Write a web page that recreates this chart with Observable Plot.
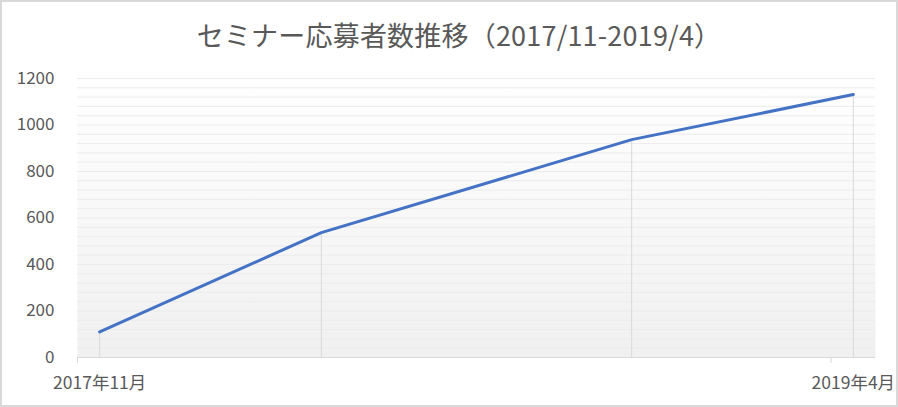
<!DOCTYPE html>
<html>
<head>
<meta charset="utf-8">
<script src="https://cdn.jsdelivr.net/npm/d3@7"></script>
<script src="https://cdn.jsdelivr.net/npm/@observablehq/plot@0.6"></script>
<style>
  html, body { margin: 0; padding: 0; background: #fff; }
  #wrap { position: relative; width: 898px; height: 407px; overflow: hidden; background: #fff; font-family: "Noto Sans CJK JP", "Noto Sans", sans-serif; }
  #title { position: absolute; left: 0; top: 15px; width: 898px; text-align: center; font-size: 27px; line-height: 40px; color: #595959; padding-left: 20px; box-sizing: border-box; letter-spacing: 0.2px; }
  #chart { position: absolute; left: 0; top: 60px; }
  #border { position: absolute; inset: 0; border: 2px solid #d9d9d9; pointer-events: none; }
</style>
</head>
<body>
<div id="wrap">
  <div id="title">セミナー応募者数推移（2017/11-2019/4）</div>
  <div id="chart"></div>
  <div id="border"></div>
</div>
<script>
const months = ["2017-11", "2018-04", "2018-11", "2019-04"];
const applicants = [110, 537, 937, 1131];
const tickLabels = ["2017年11月", "2019年4月"];
const yTicks = [0, 200, 400, 600, 800, 1000, 1200];

const monthIndex = s => { const [y, m] = s.split("-").map(Number); return (y - 2017) * 12 + (m - 11); };
const data = months.map((m, i) => ({ x: monthIndex(m), y: applicants[i] }));
const first = data[0].x, last = data[data.length - 1].x;
const labelTicks = [first, last];
const labelMap = new Map(labelTicks.map((t, i) => [t, tickLabels[i]]));
const minor = d3.range(40, 1201, 40);

const plot = Plot.plot({
  width: 898,
  height: 347,
  marginLeft: 77,
  marginRight: 23,
  marginTop: 18,
  marginBottom: 50,
  style: { fontFamily: '"Noto Sans CJK JP", "Noto Sans", sans-serif', fontSize: "17px", color: "#595959", background: "transparent", overflow: "visible" },
  x: { type: "linear", domain: [first - 0.5, last + 0.5], label: null },
  y: { domain: [0, 1200], label: null },
  marks: [
    Plot.frame({ fill: "url(#plotbg)", stroke: "none" }),
    Plot.ruleY(minor, { stroke: "#ececec", strokeWidth: 1 }),
    Plot.ruleX(data, { x: "x", y1: 0, y2: "y", stroke: "#d9d9d9", strokeWidth: 1 }),
    Plot.ruleY([0], { stroke: "#d9d9d9", strokeWidth: 1 }),
    Plot.axisX([first - 0.5, last - 0.5], { tickSize: 6, stroke: "#d9d9d9", tickFormat: () => "", label: null }),
    Plot.axisX(labelTicks, { tickSize: 0, tickPadding: 19, tickFormat: d => labelMap.get(d), fill: "#595959", fontSize: 17.5, label: null }),
    Plot.axisY(yTicks, { tickSize: 0, tickPadding: 23, tickFormat: d => String(d), fill: "#595959", fontSize: 17, label: null }),
    Plot.line(data, { x: "x", y: "y", stroke: "#4472c4", strokeWidth: 3, strokeLinejoin: "round", strokeLinecap: "round" })
  ]
});

const ns = "http://www.w3.org/2000/svg";
const defs = document.createElementNS(ns, "defs");
defs.innerHTML = '<linearGradient id="plotbg" x1="0" y1="0" x2="0" y2="1"><stop offset="0" stop-color="#ffffff"/><stop offset="1" stop-color="#f0f0f0"/></linearGradient>';
plot.insertBefore(defs, plot.firstChild);
document.getElementById("chart").appendChild(plot);
</script>
</body>
</html>
